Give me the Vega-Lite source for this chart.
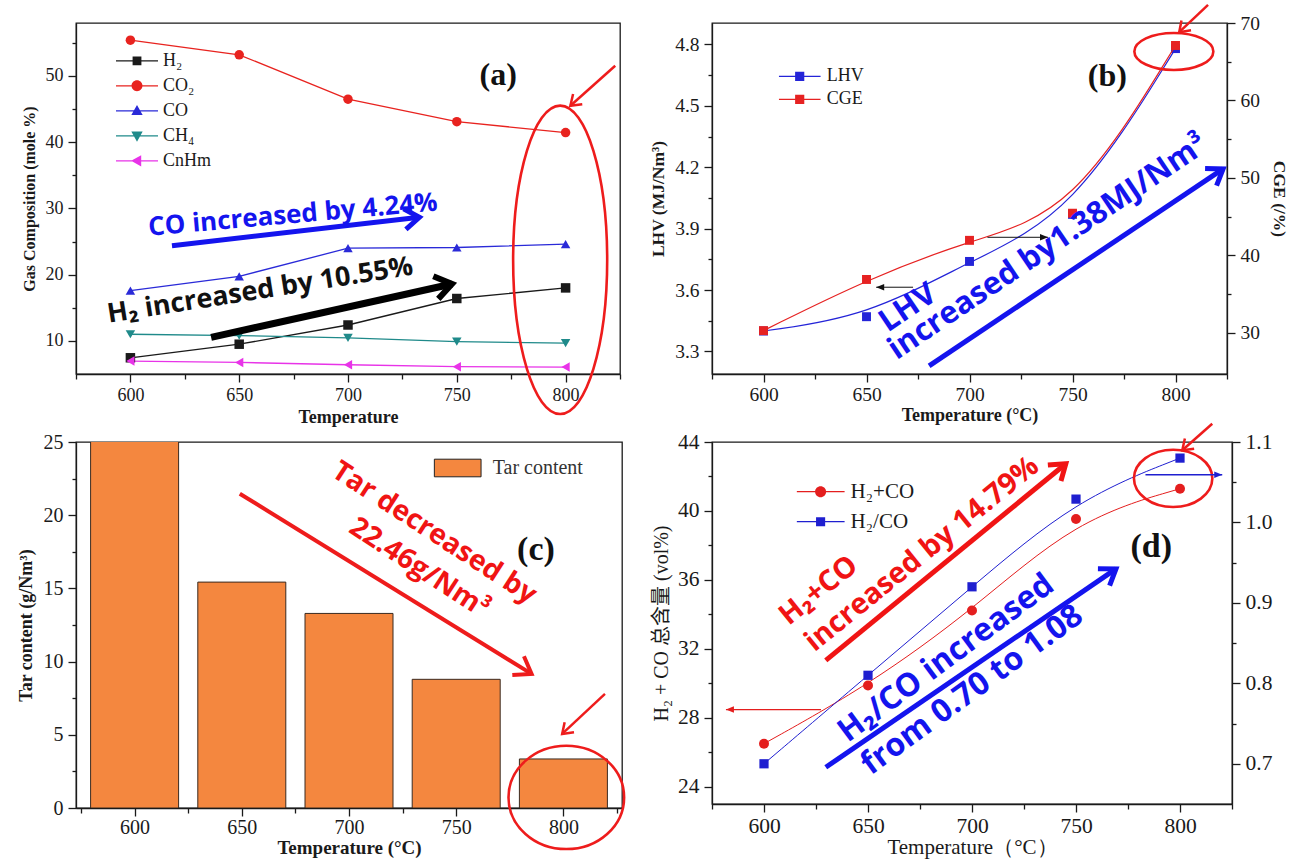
{
  "$schema": "https://vega.github.io/schema/vega-lite/v6.json",
  "background": "white",
  "padding": {"left": 16, "top": 2, "right": 4, "bottom": 0},
  "columns": 2,
  "align": "each",
  "bounds": "flush",
  "spacing": {"row": 68, "column": 90},
  "resolve": {"scale": {"color": "independent", "shape": "independent"}},
  "datasets": {
    "gas": [
      {"T": 600, "gas": "H₂", "v": 7.45}, {"T": 650, "gas": "H₂", "v": 9.5}, {"T": 700, "gas": "H₂", "v": 12.4}, {"T": 750, "gas": "H₂", "v": 16.4}, {"T": 800, "gas": "H₂", "v": 18.0},
      {"T": 600, "gas": "CO₂", "v": 55.4}, {"T": 650, "gas": "CO₂", "v": 53.2}, {"T": 700, "gas": "CO₂", "v": 46.5}, {"T": 750, "gas": "CO₂", "v": 43.1}, {"T": 800, "gas": "CO₂", "v": 41.45},
      {"T": 600, "gas": "CO", "v": 17.6}, {"T": 650, "gas": "CO", "v": 19.75}, {"T": 700, "gas": "CO", "v": 24.0}, {"T": 750, "gas": "CO", "v": 24.1}, {"T": 800, "gas": "CO", "v": 24.6},
      {"T": 600, "gas": "CH₄", "v": 11.0}, {"T": 650, "gas": "CH₄", "v": 10.8}, {"T": 700, "gas": "CH₄", "v": 10.45}, {"T": 750, "gas": "CH₄", "v": 9.9}, {"T": 800, "gas": "CH₄", "v": 9.65},
      {"T": 600, "gas": "CnHm", "v": 6.95}, {"T": 650, "gas": "CnHm", "v": 6.75}, {"T": 700, "gas": "CnHm", "v": 6.4}, {"T": 750, "gas": "CnHm", "v": 6.1}, {"T": 800, "gas": "CnHm", "v": 6.05}
    ],
    "lhv": [
      {"T": 600, "LHV": 3.40, "CGE": 30.3},
      {"T": 650, "LHV": 3.47, "CGE": 36.9},
      {"T": 700, "LHV": 3.74, "CGE": 41.95},
      {"T": 750, "LHV": 3.97, "CGE": 45.45},
      {"T": 800, "LHV": 4.78, "CGE": 67.1}
    ],
    "tar": [
      {"T": 600, "tar": 25.81, "s": "Tar content"},
      {"T": 650, "tar": 15.43, "s": "Tar content"},
      {"T": 700, "tar": 13.29, "s": "Tar content"},
      {"T": 750, "tar": 8.79, "s": "Tar content"},
      {"T": 800, "tar": 3.35, "s": "Tar content"}
    ],
    "syn": [
      {"T": 600, "sum": 26.5, "ratio": 0.70},
      {"T": 650, "sum": 29.87, "ratio": 0.81},
      {"T": 700, "sum": 34.23, "ratio": 0.92},
      {"T": 750, "sum": 39.53, "ratio": 1.029},
      {"T": 800, "sum": 41.29, "ratio": 1.08}
    ]
  },
  "concat": [
    {
      "width": 544,
      "height": 351,
      "layer": [
        {
          "data": {"name": "gas"},
          "encoding": {
            "x": {"field": "T", "type": "quantitative", "scale": {"domain": [575, 825], "nice": false, "zero": false},
              "axis": {"values": [575, 600, 625, 650, 675, 700, 725, 750, 775, 800, 825], "labelExpr": "datum.value % 50 === 0 ? datum.label : ''",
                "tickSize": {"condition": {"test": "datum.value % 50 === 0", "value": 8}, "value": 5},
                "labelFontSize": 18, "labelPadding": 4, "title": "Temperature", "titleFontSize": 18, "titlePadding": 4}},
            "y": {"field": "v", "type": "quantitative", "scale": {"domain": [5, 58], "nice": false, "zero": false},
              "axis": {"values": [10, 15, 20, 25, 30, 35, 40, 45, 50, 55], "labelExpr": "datum.value % 10 === 0 ? datum.label : ''",
                "tickSize": {"condition": {"test": "datum.value % 10 === 0", "value": 8}, "value": 4},
                "labelFontSize": 18, "title": "Gas Composition (mole %)", "titleFontSize": 16, "titlePadding": 8}}
          },
          "layer": [
            {
              "mark": {"type": "line", "strokeWidth": 1.3},
              "encoding": {"color": {"field": "gas", "type": "nominal", "scale": {"domain": ["H₂", "CO₂", "CO", "CH₄", "CnHm"], "range": ["#1a1a1a", "#e8231f", "#2a2ad8", "#1f8a8a", "#e833e8"]}, "legend": null}}
            },
            {
              "mark": {"type": "point", "filled": true, "opacity": 1, "size": 90},
              "encoding": {
                "color": {"field": "gas", "type": "nominal", "scale": {"domain": ["H₂", "CO₂", "CO", "CH₄", "CnHm"], "range": ["#1a1a1a", "#e8231f", "#2a2ad8", "#1f8a8a", "#e833e8"]}, "legend": null},
                "shape": {"field": "gas", "type": "nominal", "scale": {"domain": ["H₂", "CO₂", "CO", "CH₄", "CnHm"], "range": ["square", "circle", "triangle-up", "triangle-down", "triangle-left"]}, "legend": null}
              }
            },
            {
              "transform": [{"filter": "false"}],
              "mark": {"type": "point", "filled": true, "opacity": 1, "size": 1764, "strokeWidth": 0},
              "encoding": {
                "color": {"field": "gas", "type": "nominal", "scale": {"domain": ["H₂", "CO₂", "CO", "CH₄", "CnHm"], "range": ["#1a1a1a", "#e8231f", "#2a2ad8", "#1f8a8a", "#e833e8"]},
                  "legend": {"orient": "none", "legendX": 40, "legendY": 25.5, "title": null, "direction": "vertical", "labelFont": "Liberation Serif", "labelFontSize": 18, "labelColor": "#1a1a1a", "labelOffset": 5, "symbolSize": 1764, "symbolStrokeWidth": 0, "clipHeight": 24.6, "rowPadding": 0, "padding": 0, "symbolFillColor": "#000000"}},
                "shape": {"field": "gas", "type": "nominal", "scale": {"domain": ["H₂", "CO₂", "CO", "CH₄", "CnHm"], "range": [
                    "M-1,-0.03H1V0.03H-1ZM-0.21,-0.21H0.21V0.21H-0.21Z",
                    "M-1,-0.03H1V0.03H-1ZM-0.26,0A0.26,0.26,0,1,1,0.26,0A0.26,0.26,0,1,1,-0.26,0Z",
                    "M-1,-0.03H1V0.03H-1ZM0,-0.28L0.27,0.2L-0.27,0.2Z",
                    "M-1,-0.03H1V0.03H-1ZM0,0.28L-0.27,-0.2L0.27,-0.2Z",
                    "M-1,-0.03H1V0.03H-1ZM-0.28,0L0.2,-0.27L0.2,0.27Z"]},
                  "legend": {"orient": "none", "legendX": 40, "legendY": 25.5, "title": null, "direction": "vertical", "labelFont": "Liberation Serif", "labelFontSize": 18, "labelColor": "#1a1a1a", "labelOffset": 5, "symbolSize": 1764, "symbolStrokeWidth": 0, "clipHeight": 24.6, "rowPadding": 0, "padding": 0, "symbolFillColor": "#000000"}}
              }
            }
          ],
          "resolve": {"scale": {"color": "independent", "shape": "independent"}}
        },
        {
          "encoding": {
            "x": {"field": "T", "type": "quantitative", "scale": {"domain": [575, 825], "nice": false, "zero": false}, "axis": null},
            "y": {"field": "v", "type": "quantitative", "scale": {"domain": [5, 58], "nice": false, "zero": false}, "axis": null}
          },
          "layer": [
            {"data": {"values": [{"T": 769, "v": 50.2, "label": "(a)"}]},
              "mark": {"type": "text", "font": "Liberation Serif", "fontSize": 32, "fontWeight": "bold", "color": "#111111"},
              "encoding": {"text": {"field": "label"}}},
            {"data": {"values": [{"T": 797.5, "v": 22.24}]},
              "mark": {"type": "point", "shape": "M-0.305,0A0.305,1,0,1,1,0.305,0A0.305,1,0,1,1,-0.305,0Z", "size": 95109, "filled": false, "color": "#ee1c1c", "strokeWidth": 2.6, "opacity": 1}},
            {"data": {"values": [{"T": 822.8, "v": 51.55, "T2": 802.2, "v2": 45.51}]},
              "layer": [
                {"mark": {"type": "rule", "color": "#ee1c1c", "strokeWidth": 2.5}, "encoding": {"x2": {"field": "T2"}, "y2": {"field": "v2"}}},
                {"mark": {"type": "point", "shape": "M-0.7,1L0,0L0.7,1", "angle": 228, "size": 384, "filled": false, "color": "#ee1c1c", "strokeWidth": 2.5, "opacity": 1, "strokeJoin": "miter"},
                  "encoding": {"x": {"field": "T2", "type": "quantitative", "scale": {"domain": [575, 825], "nice": false, "zero": false}, "axis": null}, "y": {"field": "v2", "type": "quantitative", "scale": {"domain": [5, 58], "nice": false, "zero": false}, "axis": null}}}
              ]},
            {"data": {"values": [{"T": 674.7, "v": 29.0, "label": "CO increased by 4.24%"}]},
              "mark": {"type": "text", "font": "Open Sans", "fontSize": 26, "fontWeight": "bold", "color": "#1414ee", "angle": 355},
              "encoding": {"text": {"field": "label"}}},
            {"data": {"values": [{"T": 619.1, "v": 24.37, "T2": 732.8, "v2": 28.66}]},
              "layer": [
                {"mark": {"type": "rule", "color": "#1414ee", "strokeWidth": 5}, "encoding": {"x2": {"field": "T2"}, "y2": {"field": "v2"}}},
                {"mark": {"type": "point", "shape": "M-0.7,1L0,0L0.7,1", "angle": 83.4, "size": 870, "filled": false, "color": "#1414ee", "strokeWidth": 5, "opacity": 1, "strokeJoin": "miter"},
                  "encoding": {"x": {"field": "T2", "type": "quantitative", "scale": {"domain": [575, 825], "nice": false, "zero": false}, "axis": null}, "y": {"field": "v2", "type": "quantitative", "scale": {"domain": [5, 58], "nice": false, "zero": false}, "axis": null}}}
              ]},
            {"data": {"values": [{"T": 659.6, "v": 17.58, "label": "H₂ increased by 10.55%"}]},
              "mark": {"type": "text", "font": "Open Sans", "fontSize": 27, "fontWeight": "bold", "color": "#111111", "angle": 351},
              "encoding": {"text": {"field": "label"}}},
            {"data": {"values": [{"T": 637.1, "v": 10.54, "T2": 747.8, "v2": 18.59}]},
              "layer": [
                {"mark": {"type": "rule", "color": "#000000", "strokeWidth": 7}, "encoding": {"x2": {"field": "T2"}, "y2": {"field": "v2"}}},
                {"mark": {"type": "point", "shape": "M-0.7,1L0,0L0.7,1", "angle": 77.6, "size": 1100, "filled": false, "color": "#000000", "strokeWidth": 6, "opacity": 1, "strokeJoin": "miter"},
                  "encoding": {"x": {"field": "T2", "type": "quantitative", "scale": {"domain": [575, 825], "nice": false, "zero": false}, "axis": null}, "y": {"field": "v2", "type": "quantitative", "scale": {"domain": [5, 58], "nice": false, "zero": false}, "axis": null}}}
              ]}
          ]
        }
      ],
      "resolve": {"scale": {"x": "independent", "y": "independent"}}
    },
    {
      "width": 515,
      "height": 351,
      "data": {"name": "lhv"},
      "layer": [
        {
          "encoding": {
            "x": {"field": "T", "type": "quantitative", "scale": {"domain": [575, 825], "nice": false, "zero": false},
              "axis": {"values": [575, 600, 625, 650, 675, 700, 725, 750, 775, 800, 825], "labelExpr": "datum.value % 50 === 0 ? datum.label : ''",
                "tickSize": {"condition": {"test": "datum.value % 50 === 0", "value": 8}, "value": 5},
                "labelFontSize": 19.5, "labelPadding": 3, "title": "Temperature (°C)", "titleFontSize": 18, "titlePadding": 3}},
            "y": {"field": "LHV", "type": "quantitative", "scale": {"domain": [3.19, 4.905], "nice": false, "zero": false},
              "axis": {"values": [3.3, 3.45, 3.6, 3.75, 3.9, 4.05, 4.2, 4.35, 4.5, 4.65, 4.8], "format": ".1f",
                "labelExpr": "abs(datum.value * 10 % 3) < 0.01 || abs(datum.value * 10 % 3 - 3) < 0.01 ? datum.label : ''",
                "tickSize": {"condition": {"test": "abs(datum.value * 10 % 3) < 0.01 || abs(datum.value * 10 % 3 - 3) < 0.01", "value": 8}, "value": 4},
                "labelFontSize": 19.5, "title": "LHV (MJ/Nm³)", "titleFontSize": 17.5, "titlePadding": 7}}
          },
          "layer": [
            {"mark": {"type": "line", "interpolate": "basis", "color": "#2424d8", "strokeWidth": 1.2}},
            {"mark": {"type": "point", "shape": "square", "filled": true, "opacity": 1, "size": 80, "color": "#2424d8"}}
          ]
        },
        {
          "encoding": {
            "x": {"field": "T", "type": "quantitative", "scale": {"domain": [575, 825], "nice": false, "zero": false}, "axis": null},
            "y": {"field": "CGE", "type": "quantitative", "scale": {"domain": [24.7, 70], "nice": false, "zero": false},
              "axis": {"orient": "right", "values": [30, 35, 40, 45, 50, 55, 60, 65, 70], "labelExpr": "datum.value % 10 === 0 ? datum.label : ''",
                "tickSize": {"condition": {"test": "datum.value % 10 === 0", "value": 8}, "value": 4},
                "labelFontSize": 19.5, "title": "CGE (/%)", "titleFontSize": 17.5, "titlePadding": 10}}
          },
          "layer": [
            {"mark": {"type": "line", "interpolate": "basis", "color": "#e62222", "strokeWidth": 1.2}},
            {"mark": {"type": "point", "shape": "square", "filled": true, "opacity": 1, "size": 80, "color": "#e62222"}}
          ]
        },
        {
          "encoding": {
            "x": {"field": "T", "type": "quantitative", "scale": {"domain": [575, 825], "nice": false, "zero": false}, "axis": null},
            "y": {"field": "v", "type": "quantitative", "scale": {"domain": [3.19, 4.905], "nice": false, "zero": false}, "axis": null}
          },
          "layer": [
            {"data": {"values": [{"T": 766.9, "v": 4.647, "label": "(b)"}]},
              "mark": {"type": "text", "font": "Liberation Serif", "fontSize": 32, "fontWeight": "bold", "color": "#111111"},
              "encoding": {"text": {"field": "label"}}},
            {"data": {"values": [{"T": 799.2, "v": 4.766}]},
              "mark": {"type": "point", "shape": "M-1,0A1,0.468,0,1,1,1,0A1,0.468,0,1,1,-1,0Z", "size": 6241, "filled": false, "color": "#ee1c1c", "strokeWidth": 2.6, "opacity": 1}},
            {"data": {"values": [{"T": 815.8, "v": 4.994, "T2": 801.8, "v2": 4.86}]},
              "layer": [
                {"mark": {"type": "rule", "color": "#ee1c1c", "strokeWidth": 2.5}, "encoding": {"x2": {"field": "T2"}, "y2": {"field": "v2"}}},
                {"mark": {"type": "point", "shape": "M-0.7,1L0,0L0.7,1", "angle": 226, "size": 384, "filled": false, "color": "#ee1c1c", "strokeWidth": 2.5, "opacity": 1, "strokeJoin": "miter"},
                  "encoding": {"x": {"field": "T2", "type": "quantitative", "scale": {"domain": [575, 825], "nice": false, "zero": false}, "axis": null}, "y": {"field": "v2", "type": "quantitative", "scale": {"domain": [3.19, 4.905], "nice": false, "zero": false}, "axis": null}}}
              ]},
            {"data": {"values": [{"T": 672.6, "v": 3.614, "T2": 654.7, "v2": 3.614}]},
              "layer": [
                {"mark": {"type": "rule", "color": "#111111", "strokeWidth": 1}, "encoding": {"x2": {"field": "T2"}, "y2": {"field": "v2"}}},
                {"mark": {"type": "point", "shape": "M0,0L0.4,1L-0.4,1Z", "angle": 270, "size": 256, "filled": true, "color": "#111111", "opacity": 1},
                  "encoding": {"x": {"field": "T2", "type": "quantitative", "scale": {"domain": [575, 825], "nice": false, "zero": false}, "axis": null}, "y": {"field": "v2", "type": "quantitative", "scale": {"domain": [3.19, 4.905], "nice": false, "zero": false}, "axis": null}}}
              ]},
            {"data": {"values": [{"T": 708.7, "v": 3.858, "T2": 738.1, "v2": 3.858}]},
              "layer": [
                {"mark": {"type": "rule", "color": "#111111", "strokeWidth": 1}, "encoding": {"x2": {"field": "T2"}, "y2": {"field": "v2"}}},
                {"mark": {"type": "point", "shape": "M0,0L0.4,1L-0.4,1Z", "angle": 90, "size": 256, "filled": true, "color": "#111111", "opacity": 1},
                  "encoding": {"x": {"field": "T2", "type": "quantitative", "scale": {"domain": [575, 825], "nice": false, "zero": false}, "axis": null}, "y": {"field": "v2", "type": "quantitative", "scale": {"domain": [3.19, 4.905], "nice": false, "zero": false}, "axis": null}}}
              ]},
            {"data": {"values": [{"T": 670.2, "v": 3.512, "label": "LHV"}]},
              "mark": {"type": "text", "font": "Open Sans", "fontSize": 31, "fontWeight": "bold", "color": "#1414ee", "angle": 326},
              "encoding": {"text": {"field": "label"}}},
            {"data": {"values": [{"T": 738.1, "v": 3.809, "label": "increased by1.38MJ/Nm³"}]},
              "mark": {"type": "text", "font": "Open Sans", "fontSize": 31, "fontWeight": "bold", "color": "#1414ee", "angle": 326},
              "encoding": {"text": {"field": "label"}}},
            {"data": {"values": [{"T": 680.4, "v": 3.23, "T2": 823.1, "v2": 4.192}]},
              "layer": [
                {"mark": {"type": "rule", "color": "#1414ee", "strokeWidth": 5}, "encoding": {"x2": {"field": "T2"}, "y2": {"field": "v2"}}},
                {"mark": {"type": "point", "shape": "M-0.7,1L0,0L0.7,1", "angle": 56.2, "size": 870, "filled": false, "color": "#1414ee", "strokeWidth": 5, "opacity": 1, "strokeJoin": "miter"},
                  "encoding": {"x": {"field": "T2", "type": "quantitative", "scale": {"domain": [575, 825], "nice": false, "zero": false}, "axis": null}, "y": {"field": "v2", "type": "quantitative", "scale": {"domain": [3.19, 4.905], "nice": false, "zero": false}, "axis": null}}}
              ]},
            {"data": {"values": [{"s": "LHV"}, {"s": "CGE"}]},
              "transform": [{"filter": "false"}],
              "mark": {"type": "point", "filled": true, "opacity": 1, "size": 1739, "strokeWidth": 0},
              "encoding": {
                "color": {"field": "s", "type": "nominal", "scale": {"domain": ["LHV", "CGE"], "range": ["#2424d8", "#e62222"]},
                  "legend": {"orient": "none", "legendX": 66.7, "legendY": 42, "title": null, "direction": "vertical", "labelFont": "Liberation Serif", "labelFontSize": 18, "labelColor": "#1a1a1a", "labelOffset": 6, "symbolSize": 1739, "symbolStrokeWidth": 0, "clipHeight": 22.7, "rowPadding": 0, "padding": 0, "symbolFillColor": "#000000"}},
                "shape": {"field": "s", "type": "nominal", "scale": {"domain": ["LHV", "CGE"], "range": [
                    "M-1,-0.03H1V0.03H-1ZM-0.22,-0.22H0.22V0.22H-0.22Z",
                    "M-1,-0.03H1V0.03H-1ZM-0.22,-0.22H0.22V0.22H-0.22Z"]},
                  "legend": {"orient": "none", "legendX": 66.7, "legendY": 42, "title": null, "direction": "vertical", "labelFont": "Liberation Serif", "labelFontSize": 18, "labelColor": "#1a1a1a", "labelOffset": 6, "symbolSize": 1739, "symbolStrokeWidth": 0, "clipHeight": 22.7, "rowPadding": 0, "padding": 0, "symbolFillColor": "#000000"}}
              }}
          ]
        }
      ],
      "resolve": {"scale": {"x": "independent", "y": "independent"}}
    },
    {
      "width": 546,
      "height": 366,
      "layer": [
        {
          "data": {"name": "tar"},
          "mark": {"type": "bar", "orient": "vertical", "size": 88, "stroke": "#3a2a20", "strokeWidth": 1, "clip": true},
          "encoding": {
            "x": {"field": "T", "type": "quantitative", "scale": {"domain": [575, 825], "nice": false, "zero": false},
              "axis": {"values": [575, 600, 625, 650, 675, 700, 725, 750, 775, 800, 825], "labelExpr": "datum.value % 50 === 0 ? datum.label : ''",
                "tickSize": {"condition": {"test": "datum.value % 50 === 0", "value": 8}, "value": 5},
                "labelFontSize": 20, "labelPadding": 1, "title": "Temperature (°C)", "titleFontSize": 19, "titlePadding": 1}},
            "y": {"field": "tar", "type": "quantitative", "scale": {"domain": [0, 25], "nice": false},
              "axis": {"values": [0, 2.5, 5, 7.5, 10, 12.5, 15, 17.5, 20, 22.5, 25], "labelExpr": "datum.value % 5 === 0 ? datum.label : ''",
                "tickSize": {"condition": {"test": "datum.value % 5 === 0", "value": 8}, "value": 4},
                "labelFontSize": 20, "title": "Tar content (g/Nm³)", "titleFontSize": 18, "titlePadding": 8}},
            "color": {"field": "s", "type": "nominal", "scale": {"domain": ["Tar content"], "range": ["#f4873f"]},
              "legend": {"orient": "none", "legendX": 357.7, "legendY": 2, "title": null, "labelFont": "Liberation Serif", "labelFontSize": 20, "labelColor": "#333333", "labelOffset": 11, "symbolType": "M-1,-0.377H1V0.377H-1Z", "symbolSize": 2181, "symbolStrokeColor": "#222222", "symbolStrokeWidth": 1, "padding": 0}}
          }
        },
        {
          "encoding": {
            "x": {"field": "T", "type": "quantitative", "scale": {"domain": [575, 825], "nice": false, "zero": false}, "axis": null},
            "y": {"field": "v", "type": "quantitative", "scale": {"domain": [0, 25], "nice": false, "zero": false}, "axis": null}
          },
          "layer": [
            {"data": {"values": [{"T": 785.6, "v": 17.59, "label": "(c)"}]},
              "mark": {"type": "text", "font": "Liberation Serif", "fontSize": 34, "fontWeight": "bold", "color": "#111111"},
              "encoding": {"text": {"field": "label"}}},
            {"data": {"values": [{"T": 738.9, "v": 18.76, "label": "Tar decreased by"}]},
              "mark": {"type": "text", "font": "Open Sans", "fontSize": 28, "fontWeight": "bold", "color": "#f01414", "angle": 33},
              "encoding": {"text": {"field": "label"}}},
            {"data": {"values": [{"T": 732.1, "v": 16.36, "label": "22.46g/Nm³"}]},
              "mark": {"type": "text", "font": "Open Sans", "fontSize": 28, "fontWeight": "bold", "color": "#f01414", "angle": 33},
              "encoding": {"text": {"field": "label"}}},
            {"data": {"values": [{"T": 650.0, "v": 21.47, "T2": 783.6, "v2": 9.16}]},
              "layer": [
                {"mark": {"type": "rule", "color": "#ee1c1c", "strokeWidth": 4}, "encoding": {"x2": {"field": "T2"}, "y2": {"field": "v2"}}},
                {"mark": {"type": "point", "shape": "M-0.7,1L0,0L0.7,1", "angle": 121.7, "size": 1000, "filled": false, "color": "#ee1c1c", "strokeWidth": 4, "opacity": 1, "strokeJoin": "miter"},
                  "encoding": {"x": {"field": "T2", "type": "quantitative", "scale": {"domain": [575, 825], "nice": false, "zero": false}, "axis": null}, "y": {"field": "v2", "type": "quantitative", "scale": {"domain": [0, 25], "nice": false, "zero": false}, "axis": null}}}
              ]},
            {"data": {"values": [{"T": 817.2, "v": 7.8, "T2": 797.6, "v2": 5.06}]},
              "layer": [
                {"mark": {"type": "rule", "color": "#ee1c1c", "strokeWidth": 2.5}, "encoding": {"x2": {"field": "T2"}, "y2": {"field": "v2"}}},
                {"mark": {"type": "point", "shape": "M-0.7,1L0,0L0.7,1", "angle": 227, "size": 384, "filled": false, "color": "#ee1c1c", "strokeWidth": 2.5, "opacity": 1, "strokeJoin": "miter"},
                  "encoding": {"x": {"field": "T2", "type": "quantitative", "scale": {"domain": [575, 825], "nice": false, "zero": false}, "axis": null}, "y": {"field": "v2", "type": "quantitative", "scale": {"domain": [0, 25], "nice": false, "zero": false}, "axis": null}}}
              ]},
            {"data": {"values": [{"T": 799.5, "v": 0.725}]},
              "mark": {"type": "point", "shape": "M-1,0A1,0.894,0,1,1,1,0A1,0.894,0,1,1,-1,0Z", "size": 13363, "filled": false, "color": "#ee1c1c", "strokeWidth": 2.6, "opacity": 1}}
          ]
        }
      ],
      "resolve": {"scale": {"x": "independent", "y": "independent"}}
    },
    {
      "width": 520,
      "height": 362,
      "data": {"name": "syn"},
      "layer": [
        {
          "encoding": {
            "x": {"field": "T", "type": "quantitative", "scale": {"domain": [575, 825], "nice": false, "zero": false},
              "axis": {"values": [575, 600, 625, 650, 675, 700, 725, 750, 775, 800, 825], "labelExpr": "datum.value % 50 === 0 ? datum.label : ''",
                "tickSize": {"condition": {"test": "datum.value % 50 === 0", "value": 8}, "value": 5},
                "labelFontSize": 21.5, "labelPadding": 3, "title": "Temperature（°C）", "titleFontSize": 21, "titleFontWeight": "normal", "titlePadding": 0}},
            "y": {"field": "sum", "type": "quantitative", "scale": {"domain": [23, 44], "nice": false, "zero": false},
              "axis": {"values": [24, 26, 28, 30, 32, 34, 36, 38, 40, 42, 44], "labelExpr": "datum.value % 4 === 0 ? datum.label : ''",
                "tickSize": {"condition": {"test": "datum.value % 4 === 0", "value": 8}, "value": 4},
                "labelFontSize": 21.5, "title": "H₂ + CO 总含量 (vol%)", "titleFont": "Liberation Serif, Noto Sans CJK SC", "titleFontSize": 20, "titleFontWeight": "normal", "titlePadding": 6}}
          },
          "layer": [
            {"mark": {"type": "line", "interpolate": "basis", "color": "#e41e1e", "strokeWidth": 1}},
            {"mark": {"type": "point", "shape": "circle", "filled": true, "opacity": 1, "size": 100, "color": "#e41e1e"}}
          ]
        },
        {
          "encoding": {
            "x": {"field": "T", "type": "quantitative", "scale": {"domain": [575, 825], "nice": false, "zero": false}, "axis": null},
            "y": {"field": "ratio", "type": "quantitative", "scale": {"domain": [0.65, 1.1], "nice": false, "zero": false},
              "axis": {"orient": "right", "values": [0.7, 0.75, 0.8, 0.85, 0.9, 0.95, 1.0, 1.05, 1.1], "format": ".1f",
                "labelExpr": "abs(datum.value * 10 - round(datum.value * 10)) < 0.01 ? datum.label : ''",
                "tickSize": {"condition": {"test": "abs(datum.value * 10 - round(datum.value * 10)) < 0.01", "value": 8}, "value": 4},
                "labelFontSize": 21.5, "title": null}}
          },
          "layer": [
            {"mark": {"type": "line", "interpolate": "basis", "color": "#1f1fd0", "strokeWidth": 1}},
            {"mark": {"type": "point", "shape": "square", "filled": true, "opacity": 1, "size": 85, "color": "#1f1fd0"}}
          ]
        },
        {
          "encoding": {
            "x": {"field": "T", "type": "quantitative", "scale": {"domain": [575, 825], "nice": false, "zero": false}, "axis": null},
            "y": {"field": "v", "type": "quantitative", "scale": {"domain": [23, 44], "nice": false, "zero": false}, "axis": null}
          },
          "layer": [
            {"data": {"values": [{"T": 786.2, "v": 37.9, "label": "(d)"}]},
              "mark": {"type": "text", "font": "Liberation Serif", "fontSize": 34, "fontWeight": "bold", "color": "#111111"},
              "encoding": {"text": {"field": "label"}}},
            {"data": {"values": [{"T": 796.7, "v": 41.89}]},
              "mark": {"type": "point", "shape": "M-1,0A1,0.732,0,1,1,1,0A1,0.732,0,1,1,-1,0Z", "size": 6147, "filled": false, "color": "#ee1c1c", "strokeWidth": 2.6, "opacity": 1}},
            {"data": {"values": [{"T": 815.5, "v": 45.06, "T2": 801.1, "v2": 43.52}]},
              "layer": [
                {"mark": {"type": "rule", "color": "#ee1c1c", "strokeWidth": 2.5}, "encoding": {"x2": {"field": "T2"}, "y2": {"field": "v2"}}},
                {"mark": {"type": "point", "shape": "M-0.7,1L0,0L0.7,1", "angle": 227.5, "size": 384, "filled": false, "color": "#ee1c1c", "strokeWidth": 2.5, "opacity": 1, "strokeJoin": "miter"},
                  "encoding": {"x": {"field": "T2", "type": "quantitative", "scale": {"domain": [575, 825], "nice": false, "zero": false}, "axis": null}, "y": {"field": "v2", "type": "quantitative", "scale": {"domain": [23, 44], "nice": false, "zero": false}, "axis": null}}}
              ]},
            {"data": {"values": [{"T": 783.4, "v": 42.1, "T2": 820.3, "v2": 42.1}]},
              "layer": [
                {"mark": {"type": "rule", "color": "#1f1fd0", "strokeWidth": 1.3}, "encoding": {"x2": {"field": "T2"}, "y2": {"field": "v2"}}},
                {"mark": {"type": "point", "shape": "M0,0L0.4,1L-0.4,1Z", "angle": 90, "size": 256, "filled": true, "color": "#1f1fd0", "opacity": 1},
                  "encoding": {"x": {"field": "T2", "type": "quantitative", "scale": {"domain": [575, 825], "nice": false, "zero": false}, "axis": null}, "y": {"field": "v2", "type": "quantitative", "scale": {"domain": [23, 44], "nice": false, "zero": false}, "axis": null}}}
              ]},
            {"data": {"values": [{"T": 627.4, "v": 28.48, "T2": 581.7, "v2": 28.48}]},
              "layer": [
                {"mark": {"type": "rule", "color": "#e41e1e", "strokeWidth": 1.3}, "encoding": {"x2": {"field": "T2"}, "y2": {"field": "v2"}}},
                {"mark": {"type": "point", "shape": "M0,0L0.4,1L-0.4,1Z", "angle": 270, "size": 256, "filled": true, "color": "#e41e1e", "opacity": 1},
                  "encoding": {"x": {"field": "T2", "type": "quantitative", "scale": {"domain": [575, 825], "nice": false, "zero": false}, "axis": null}, "y": {"field": "v2", "type": "quantitative", "scale": {"domain": [23, 44], "nice": false, "zero": false}, "axis": null}}}
              ]},
            {"data": {"values": [{"T": 626.2, "v": 35.39, "label": "H₂+CO"}]},
              "mark": {"type": "text", "font": "Open Sans", "fontSize": 29, "fontWeight": "bold", "color": "#f01414", "angle": 321},
              "encoding": {"text": {"field": "label"}}},
            {"data": {"values": [{"T": 675.9, "v": 37.51, "label": "increased by 14.79%"}]},
              "mark": {"type": "text", "font": "Open Sans", "fontSize": 29, "fontWeight": "bold", "color": "#f01414", "angle": 321},
              "encoding": {"text": {"field": "label"}}},
            {"data": {"values": [{"T": 629.7, "v": 31.33, "T2": 745.1, "v2": 42.74}]},
              "layer": [
                {"mark": {"type": "rule", "color": "#f01414", "strokeWidth": 5}, "encoding": {"x2": {"field": "T2"}, "y2": {"field": "v2"}}},
                {"mark": {"type": "point", "shape": "M-0.7,1L0,0L0.7,1", "angle": 50.7, "size": 870, "filled": false, "color": "#f01414", "strokeWidth": 5, "opacity": 1, "strokeJoin": "miter"},
                  "encoding": {"x": {"field": "T2", "type": "quantitative", "scale": {"domain": [575, 825], "nice": false, "zero": false}, "axis": null}, "y": {"field": "v2", "type": "quantitative", "scale": {"domain": [23, 44], "nice": false, "zero": false}, "axis": null}}}
              ]},
            {"data": {"values": [{"T": 687.5, "v": 31.47, "label": "H₂/CO  increased"}]},
              "mark": {"type": "text", "font": "Open Sans", "fontSize": 32, "fontWeight": "bold", "color": "#1414ee", "angle": 323.5},
              "encoding": {"text": {"field": "label"}}},
            {"data": {"values": [{"T": 700.0, "v": 29.63, "label": "from 0.70 to 1.08"}]},
              "mark": {"type": "text", "font": "Open Sans", "fontSize": 32, "fontWeight": "bold", "color": "#1414ee", "angle": 324},
              "encoding": {"text": {"field": "label"}}},
            {"data": {"values": [{"T": 629.7, "v": 25.13, "T2": 769.2, "v2": 36.64}]},
              "layer": [
                {"mark": {"type": "rule", "color": "#1414ee", "strokeWidth": 5}, "encoding": {"x2": {"field": "T2"}, "y2": {"field": "v2"}}},
                {"mark": {"type": "point", "shape": "M-0.7,1L0,0L0.7,1", "angle": 55.6, "size": 870, "filled": false, "color": "#1414ee", "strokeWidth": 5, "opacity": 1, "strokeJoin": "miter"},
                  "encoding": {"x": {"field": "T2", "type": "quantitative", "scale": {"domain": [575, 825], "nice": false, "zero": false}, "axis": null}, "y": {"field": "v2", "type": "quantitative", "scale": {"domain": [23, 44], "nice": false, "zero": false}, "axis": null}}}
              ]},
            {"data": {"values": [{"s": "H₂+CO"}, {"s": "H₂/CO"}]},
              "transform": [{"filter": "false"}],
              "mark": {"type": "point", "filled": true, "opacity": 1, "size": 2304, "strokeWidth": 0},
              "encoding": {
                "color": {"field": "s", "type": "nominal", "scale": {"domain": ["H₂+CO", "H₂/CO"], "range": ["#e41e1e", "#1f1fd0"]},
                  "legend": {"orient": "none", "legendX": 84.6, "legendY": 35, "title": null, "direction": "vertical", "labelFont": "Liberation Serif", "labelFontSize": 21, "labelColor": "#1a1a1a", "labelOffset": 6, "symbolSize": 2304, "symbolStrokeWidth": 0, "clipHeight": 29.4, "rowPadding": 0, "padding": 0, "symbolFillColor": "#000000"}},
                "shape": {"field": "s", "type": "nominal", "scale": {"domain": ["H₂+CO", "H₂/CO"], "range": [
                    "M-1,-0.025H1V0.025H-1ZM-0.23,0A0.23,0.23,0,1,1,0.23,0A0.23,0.23,0,1,1,-0.23,0Z",
                    "M-1,-0.025H1V0.025H-1ZM-0.19,-0.19H0.19V0.19H-0.19Z"]},
                  "legend": {"orient": "none", "legendX": 84.6, "legendY": 35, "title": null, "direction": "vertical", "labelFont": "Liberation Serif", "labelFontSize": 21, "labelColor": "#1a1a1a", "labelOffset": 6, "symbolSize": 2304, "symbolStrokeWidth": 0, "clipHeight": 29.4, "rowPadding": 0, "padding": 0, "symbolFillColor": "#000000"}}
              }}
          ]
        }
      ],
      "resolve": {"scale": {"x": "independent", "y": "independent"}}
    }
  ],
  "config": {
    "view": {"stroke": "#1a1a1a", "strokeWidth": 1.3},
    "axis": {
      "grid": false,
      "domainColor": "#1a1a1a", "domainWidth": 1.3,
      "tickColor": "#1a1a1a", "tickWidth": 1.3,
      "labelFont": "Liberation Serif", "labelColor": "#1a1a1a", "labelPadding": 5, "labelFlush": false, "labelOverlap": false,
      "titleFont": "Liberation Serif", "titleColor": "#1a1a1a", "titleFontWeight": "bold"
    },
    "legend": {"symbolFillColor": "#000000", "padding": 0}
  }
}
